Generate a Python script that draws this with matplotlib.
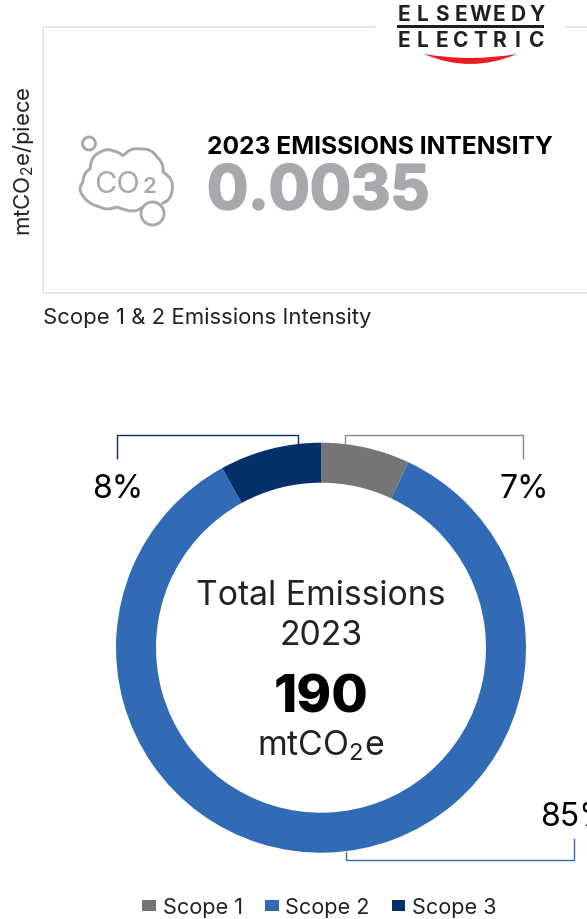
import numpy as np
import matplotlib
matplotlib.use("Agg")
import matplotlib.pyplot as plt
import matplotlib.patheffects as pe
from matplotlib.path import Path
from matplotlib.patches import PathPatch, Circle, Rectangle

plt.rcParams['font.family'] = ['Inter', 'DejaVu Sans']
plt.rcParams['mathtext.default'] = 'regular'

# data
scopes = ['Scope 1', 'Scope 2', 'Scope 3']
shares = [7, 85, 8]
share_labels = ['7%', '85%', '8%']
scope_colors = ['#757575', '#316bb5', '#03306b']
total_emissions = '190'
total_year = '2023'
intensity = '0.0035'
intensity_title = '2023 EMISSIONS INTENSITY'
intensity_caption = 'Scope 1 & 2 Emissions Intensity'
intensity_unit = r'mtCO$_{2}$e/piece'
total_unit = r'mtCO$_{2}$e'

W, H = 587, 920
fig = plt.figure(figsize=(W / 100, H / 100), dpi=100)

# overlay in pixel coordinates for the panel and the annotations
bg = fig.add_axes([0, 0, 1, 1])
bg.set_xlim(0, W)
bg.set_ylim(H, 0)
bg.axis('off')

# ---- intensity panel ----
line_grey = '#e4e4e4'
bg.plot([375, 43, 43, 587], [28, 28, 294, 294], color=line_grey, lw=1.3)
bg.plot([566, 587], [28, 28], color=line_grey, lw=1.3)

bg.text(24, 161, intensity_unit, rotation=90, ha='center', va='center', fontsize=16, color='#222222')
bg.text(43, 318, intensity_caption, ha='left', va='center', fontsize=15.9, color='#222222')
bg.text(207, 148, intensity_title, ha='left', va='center', fontsize=17.7, fontweight='bold', color='black')
num = bg.text(207, 194, intensity, ha='left', va='center', fontsize=44, fontweight='bold', color='#a7a9ac')
num.set_path_effects([pe.withStroke(linewidth=1.6, foreground='#a7a9ac')])

# ---- co2 icon ----
icon_grey = '#a7a9ac'
cloud = [(123, 157), (130, 148), (140, 150), (152, 149), (157, 158), (164, 164), (163, 173),
         (175, 180), (172, 192), (171, 200), (165, 203)]
cloud2 = [(142, 208), (135, 216), (117, 208), (106, 212), (100, 208), (88, 205), (83, 197),
          (77, 190), (83, 183), (83, 174), (90, 170), (91, 158), (97, 155), (107, 148), (113, 152), (118, 152), (123, 157)]
for pts in (cloud, cloud2):
    codes = [Path.MOVETO] + [Path.CURVE3] * (len(pts) - 1)
    bg.add_patch(PathPatch(Path(pts, codes), fc='none', ec=icon_grey, lw=2.1))
bg.plot([165, 163], [203, 204], color=icon_grey, lw=2.1)
bg.add_patch(Circle((89, 144.5), 6.5, fc='white', ec=icon_grey, lw=2.1))
bg.add_patch(Circle((152.5, 214.5), 11.5, fc='white', ec=icon_grey, lw=2.1))
bg.text(117.5, 185, 'CO', ha='center', va='center', fontsize=22, color=icon_grey)
bg.text(150, 187, '2', ha='center', va='center', fontsize=16, fontweight='semibold', color=icon_grey)

# ---- logo ----
logo_top = 'ELSEWEDY'
logo_bottom = 'ELECTRIC'
for word, y in ((logo_top, 15), (logo_bottom, 41)):
    for x, letter in zip(np.linspace(404, 537, len(word)), word):
        bg.text(x, y, letter, ha='center', va='center', fontsize=15, fontweight='bold', color='#231f20')
bg.add_patch(Rectangle((397, 26), 147, 3, fc='#231f20', ec='none'))
red_arc = Path([(424, 55), (470, 63), (517, 55), (470, 75), (424, 55)],
               [Path.MOVETO, Path.CURVE3, Path.CURVE3, Path.CURVE3, Path.CURVE3])
bg.add_patch(PathPatch(red_arc, fc='#ed1c24', ec='none'))

# ---- leader lines and share labels ----
bg.plot([117, 117, 298, 298], [459, 436, 436, 444], color=scope_colors[2], lw=1)
bg.plot([345, 345, 523, 523], [444, 436, 436, 459], color='#8a8a8a', lw=1)
bg.plot([346, 346, 574, 574], [853, 861, 861, 840], color=scope_colors[1], lw=1)
bg.text(118, 490, share_labels[2], ha='center', va='center', fontsize=23, color='black')
bg.text(524, 490, share_labels[0], ha='center', va='center', fontsize=23, color='black')
bg.text(540, 818, share_labels[1], ha='left', va='center', fontsize=23, color='black', clip_on=False)

# ---- donut ----
cx, cy, r = 321, 648.7, 205
ax = fig.add_axes([(cx - r) / W, 1 - (cy + r) / H, 2 * r / W, 2 * r / H])
wedges, _ = ax.pie(shares, colors=scope_colors, startangle=90, counterclock=False, radius=1,
                   wedgeprops={'width': 40 / 205, 'linewidth': 0})
ax.set_xlim(-1, 1)
ax.set_ylim(-1, 1)

bg.text(cx, 596, 'Total Emissions', ha='center', va='center', fontsize=24.3, color='#222222')
bg.text(cx, 636, total_year, ha='center', va='center', fontsize=24.3, color='#222222')
bg.text(cx, 699, total_emissions, ha='center', va='center', fontsize=38, fontweight='heavy', color='black')
bg.text(cx, 746, total_unit, ha='center', va='center', fontsize=24.4, color='#222222')

fig.legend(wedges, scopes, loc='center', bbox_to_anchor=(319.5 / W, 1 - 908 / H), ncol=3, frameon=False,
           fontsize=15.6, handlelength=0.64, handleheight=0.41, handletextpad=0.32, columnspacing=1.0,
           labelcolor='#222222')

fig.savefig('out.png', dpi=100)
